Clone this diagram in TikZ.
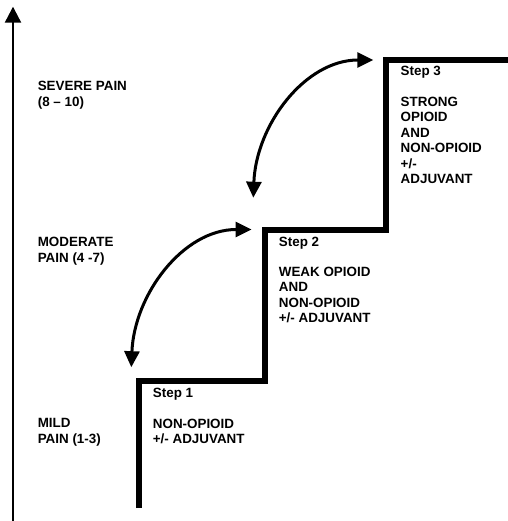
\documentclass[tikz,border=0pt]{standalone}
\usepackage{fontspec}
\setmainfont{Liberation Sans}
\usetikzlibrary{arrows.meta}
\begin{document}
\begin{tikzpicture}[x=1pt,y=-1pt,
  lbl/.style={anchor=north west, inner sep=0pt, align=left, font=\bfseries\fontsize{13.4}{15.5}\selectfont},
  stair/.style={line width=6pt, line join=miter},
  dbl/.style={line width=3pt, {Triangle[length=16pt,width=15pt]}-{Triangle[length=16pt,width=15pt]}},
  axisline/.style={line width=2.2pt, -{Triangle[length=16pt,width=16pt]}}]
\useasboundingbox (0,0) rectangle (507,521);
% axis
\coordinate (axB) at (13,522);
\coordinate (axT) at (13,6.7);
\draw[axisline] (axB) -- (axT);
% staircase
\coordinate (s0) at (138.8,508);
\coordinate (s1) at (138.8,381.2);
\coordinate (s2) at (265,381.2);
\coordinate (s3) at (265,230);
\coordinate (s4) at (385.8,230);
\coordinate (s5) at (385.8,59.7);
\coordinate (s6) at (510,59.7);
\draw[stair] (s0) -- (s1) -- (s2) -- (s3) -- (s4) -- (s5) -- (s6);
% curved double arrows
\coordinate (u1) at (373.3,60);
\coordinate (u2) at (253.3,197.7);
\draw[dbl] (u1) .. controls (305,60) and (256,125) .. (u2);
\coordinate (l1) at (251.5,229.5);
\coordinate (l2) at (131.3,367.2);
\draw[dbl] (l1) .. controls (183.2,229.5) and (134.2,294.5) .. (l2);
% labels
\node[lbl] (severe) at (37.6,79.85) {\strut SEVERE PAIN\\(8 – 10)};
\node[lbl] (moderate) at (37.6,235.65) {\strut MODERATE\\PAIN (4 -7)};
\node[lbl] (mild) at (37.6,416.85) {\strut MILD\\PAIN (1-3)};
\node[lbl] (step1) at (152.7,386.65) {\strut Step 1};
\node[lbl] (desc1) at (152.7,417.15) {\strut NON-OPIOID\\+/- ADJUVANT};
\node[lbl] (step2) at (278.7,235.65) {\strut Step 2};
\node[lbl] (desc2) at (278.7,265.15) {\strut WEAK OPIOID\\AND\\NON-OPIOID\\+/- ADJUVANT};
\node[lbl] (step3) at (400.5,64.35) {\strut Step 3};
\node[lbl] (desc3) at (400.5,95.15) {\strut STRONG\\OPIOID\\AND\\NON-OPIOID\\+/-\\ADJUVANT};
\end{tikzpicture}
\end{document}
